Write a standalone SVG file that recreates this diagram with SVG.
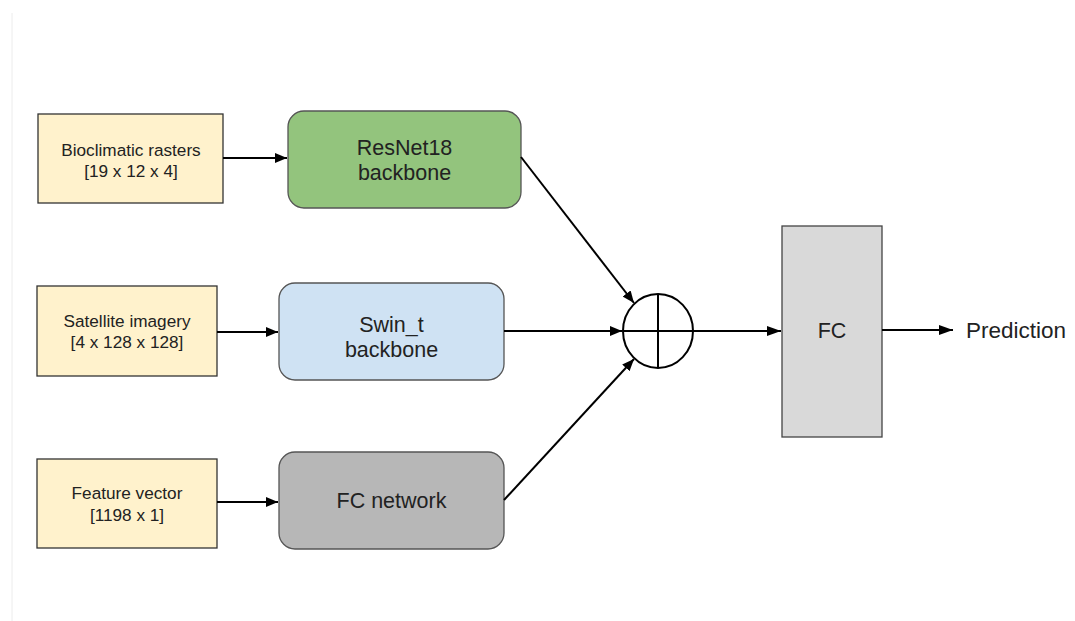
<svg xmlns="http://www.w3.org/2000/svg" width="1075" height="621" viewBox="0 0 1075 621">
  <defs>
    <marker id="arrow" viewBox="0 0 12 10" refX="12" refY="5" markerWidth="12" markerHeight="10" markerUnits="userSpaceOnUse" orient="auto">
      <path d="M0,0 L12,5 L0,10 z" fill="#000"/>
    </marker>
    <marker id="arrowBig" viewBox="0 0 14 10" refX="14" refY="5" markerWidth="14" markerHeight="11" markerUnits="userSpaceOnUse" orient="auto">
      <path d="M0,0 L14,5 L0,10 z" fill="#000"/>
    </marker>
    <style>
      text { font-family: "Liberation Sans", Arial, sans-serif; fill: #222; text-anchor: middle; }
      .input { fill: #fff2cc; stroke: #333; stroke-width: 1.3; }
      .block { stroke: #555; stroke-width: 1.3; }
      .edge { stroke: #000; stroke-width: 2; fill: none; }
      .small { font-size: 17.2px; }
      .big { font-size: 21.5px; }
    </style>
  </defs>

  <rect width="1075" height="621" fill="#fff"/>
  <!-- page edge -->
  <line x1="12" y1="13" x2="12" y2="621" stroke="#ececec" stroke-width="1"/>

  <g id="input-bioclimatic">
    <rect class="input" x="38" y="114" width="185" height="89"/>
    <text class="small" x="131" y="156">Bioclimatic rasters</text>
    <text class="small" x="131" y="177">[19 x 12 x 4]</text>
  </g>

  <g id="input-satellite">
    <rect class="input" x="37" y="286" width="180" height="90"/>
    <text class="small" x="127" y="327">Satellite imagery</text>
    <text class="small" x="127" y="348">[4 x 128 x 128]</text>
  </g>

  <g id="input-feature">
    <rect class="input" x="37" y="459" width="180" height="89"/>
    <text class="small" x="127" y="499">Feature vector</text>
    <text class="small" x="127" y="521">[1198 x 1]</text>
  </g>

  <g id="resnet">
    <rect class="block" x="288" y="111" width="233" height="97" rx="16" fill="#93c47d"/>
    <text class="big" x="404.5" y="155">ResNet18</text>
    <text class="big" x="404.5" y="180">backbone</text>
  </g>

  <g id="swin">
    <rect class="block" x="279" y="283" width="225" height="97" rx="16" fill="#cfe2f3"/>
    <text class="big" x="391.5" y="332">Swin_t</text>
    <text class="big" x="391.5" y="357">backbone</text>
  </g>

  <g id="fc-network">
    <rect class="block" x="279" y="452" width="225" height="97" rx="16" fill="#b7b7b7"/>
    <text class="big" x="391.5" y="508">FC network</text>
  </g>

  <g id="sum">
    <ellipse cx="658" cy="331" rx="35" ry="37" fill="#fff" stroke="#000" stroke-width="2"/>
    <line x1="658" y1="294" x2="658" y2="368" stroke="#000" stroke-width="2"/>
    <line x1="623" y1="331" x2="693" y2="331" stroke="#000" stroke-width="2"/>
  </g>

  <g id="fc">
    <rect x="782" y="226" width="100" height="211" fill="#d9d9d9" stroke="#444" stroke-width="1.3"/>
    <text class="big" x="832" y="338">FC</text>
  </g>

  <g id="prediction">
    <text x="966" y="338" font-size="22.5" style="text-anchor:start">Prediction</text>
  </g>

  <g id="connectors">
    <line class="edge" x1="223" y1="158" x2="287" y2="158" marker-end="url(#arrow)"/>
    <line class="edge" x1="217" y1="332" x2="278" y2="332" marker-end="url(#arrow)"/>
    <line class="edge" x1="217" y1="502" x2="278" y2="502" marker-end="url(#arrow)"/>
    <line class="edge" x1="521" y1="157" x2="634" y2="303" marker-end="url(#arrow)"/>
    <line class="edge" x1="504" y1="331" x2="622" y2="331" marker-end="url(#arrow)"/>
    <line class="edge" x1="504" y1="500" x2="634" y2="359" marker-end="url(#arrow)"/>
    <line class="edge" x1="693" y1="331" x2="781" y2="331" marker-end="url(#arrowBig)"/>
    <line class="edge" x1="882" y1="330" x2="953" y2="330" marker-end="url(#arrowBig)"/>
  </g>
</svg>
